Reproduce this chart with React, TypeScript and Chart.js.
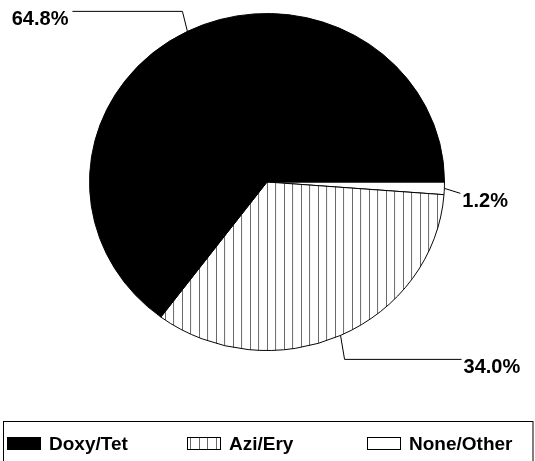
import React, { useEffect, useRef } from 'react';
import { Chart, registerables } from 'chart.js';

Chart.register(...registerables);

const categories = ['Doxy/Tet', 'Azi/Ery', 'None/Other'];
const shares = [64.8, 34.0, 1.2];
const percentLabels = ['64.8%', '34.0%', '1.2%'];

const FAMILY = '"Liberation Sans", Arial, Helvetica, sans-serif';
const W = 535;
const H = 461;
const Y_SCALE = 169 / 178;

// leader-line layout per category (elbow offset from slice anchor, horizontal run)
const leaders = [
  { ex: -5, ey: -20, run: -110 },
  { ex: 4, ey: 24, run: 117 },
  { ex: 16, ey: 5, run: 0 },
];

export default function App() {
  const ref = useRef<HTMLCanvasElement>(null);

  useEffect(() => {
    document.body.style.margin = '0';
    const canvas = ref.current!;
    const pc = document.createElement('canvas');
    pc.width = 17;
    pc.height = 4;
    const pctx = pc.getContext('2d')!;
    pctx.fillStyle = '#fff';
    pctx.fillRect(0, 0, 17, 4);
    pctx.fillStyle = '#6a6a6a';
    pctx.fillRect(3, 0, 1, 4);
    pctx.fillRect(12, 0, 1, 4);
    const hatch = canvas.getContext('2d')!.createPattern(pc, 'repeat')!;
    const fills: any[] = ['#000000', hatch, '#ffffff'];

    // drawn clockwise from 3 o'clock in reverse order => counter-clockwise look
    const order = categories.map((_, i) => categories.length - 1 - i);

    const ellipse = {
      id: 'ellipse',
      beforeDatasetsDraw(chart: any) {
        const arc = chart.getDatasetMeta(0).data[0];
        const ctx = chart.ctx;
        ctx.save();
        ctx.translate(arc.x, arc.y);
        ctx.scale(1, Y_SCALE);
        ctx.translate(-arc.x, -arc.y);
      },
      afterDatasetsDraw(chart: any) {
        chart.ctx.restore();
      },
    };

    const annotations = {
      id: 'annotations',
      afterDraw(chart: any) {
        const ctx = chart.ctx as CanvasRenderingContext2D;
        const meta = chart.getDatasetMeta(0);
        ctx.save();
        ctx.strokeStyle = '#000';
        ctx.lineWidth = 1;
        ctx.fillStyle = '#000';
        ctx.font = `bold 20px ${FAMILY}`;
        ctx.textBaseline = 'alphabetic';
        meta.data.forEach((arc: any, j: number) => {
          const ci = order[j];
          const mid = (arc.startAngle + arc.endAngle) / 2;
          const ax = arc.x + arc.outerRadius * Math.cos(mid);
          const ay = arc.y + arc.outerRadius * Math.sin(mid) * Y_SCALE;
          const L = leaders[ci];
          const bx = ax + L.ex;
          const by = ay + L.ey;
          const endX = bx + L.run;
          ctx.beginPath();
          ctx.moveTo(ax, ay);
          ctx.lineTo(bx, by);
          ctx.lineTo(endX, by);
          ctx.stroke();
          if (L.run < 0) {
            ctx.textAlign = 'right';
            ctx.fillText(percentLabels[ci], endX - 4, by + 14);
          } else {
            ctx.textAlign = 'left';
            ctx.fillText(percentLabels[ci], endX + 2, by + 14);
          }
        });

        // legend
        ctx.lineWidth = 1;
        ctx.strokeStyle = '#000';
        ctx.strokeRect(3.5, 421.5, 529.5, 60);
        ctx.font = `bold 19px ${FAMILY}`;
        ctx.textAlign = 'left';
        categories.forEach((name, i) => {
          const sx = 7 + i * 180;
          const sy = 437;
          ctx.fillStyle = fills[i];
          ctx.fillRect(sx, sy, 34, 13);
          ctx.strokeStyle = '#000';
          ctx.strokeRect(sx + 0.5, sy + 0.5, 33, 12);
          ctx.fillStyle = '#000';
          ctx.fillText(name, sx + 42, 450);
        });
        ctx.restore();
      },
    };

    const chart = new Chart(canvas, {
      type: 'pie',
      data: {
        labels: order.map((i) => categories[i]),
        datasets: [
          {
            data: order.map((i) => shares[i]),
            backgroundColor: order.map((i) => fills[i]),
            borderColor: '#000000',
            borderWidth: 1,
            hoverOffset: 0,
            offset: 0,
          },
        ],
      },
      options: {
        responsive: false,
        animation: false,
        devicePixelRatio: 1,
        events: [],
        rotation: 90,
        layout: { padding: { left: 89, right: 90, top: 4, bottom: 101 } },
        plugins: {
          legend: { display: false },
          tooltip: { enabled: false },
        },
      },
      plugins: [ellipse, annotations],
    });

    return () => chart.destroy();
  }, []);

  return (
    <div style={{ width: W, height: H, background: '#fff' }}>
      <canvas ref={ref} width={W} height={H} style={{ display: 'block', width: W, height: H }} />
    </div>
  );
}
